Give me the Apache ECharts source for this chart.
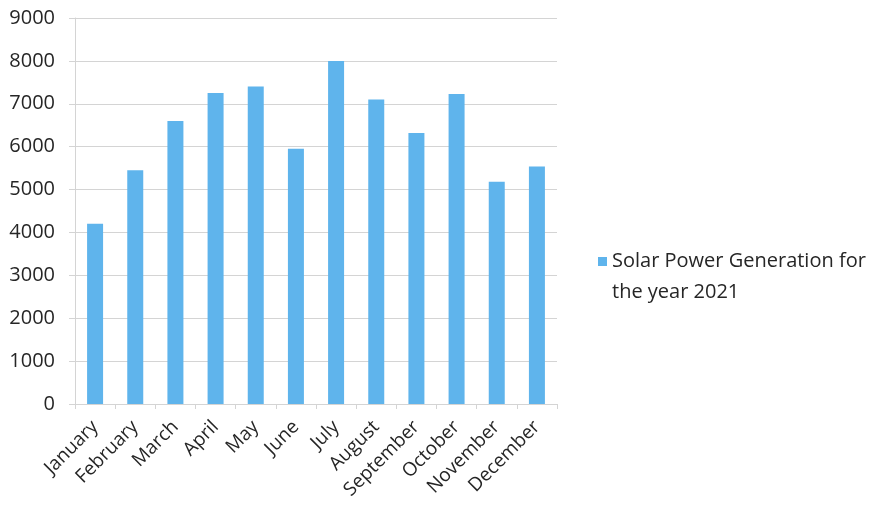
<!DOCTYPE html>
<html>
<head>
<meta charset="utf-8">
<script src="https://cdn.jsdelivr.net/npm/echarts@6/dist/echarts.min.js"></script>
<style>
html,body{margin:0;padding:0;background:#fff;}
#chart{width:878px;height:524px;}
</style>
</head>
<body>
<div id="chart"></div>
<script>
const categories = ['January','February','March','April','May','June','July','August','September','October','November','December'];
const seriesName = 'Solar Power Generation for the year 2021';
const values = [4200, 5450, 6600, 7250, 7400, 5950, 8000, 7100, 6320, 7230, 5180, 5540];
const yTicks = [0, 1000, 2000, 3000, 4000, 5000, 6000, 7000, 8000, 9000];

const chart = echarts.init(document.getElementById('chart'));
chart.setOption({
  animation: false,
  backgroundColor: '#ffffff',
  textStyle: { fontFamily: 'Open Sans' },
  grid: { left: 75, right: 321, top: 18, bottom: 120 },
  legend: {
    show: true,
    left: 593,
    top: 210,
    icon: 'rect',
    itemWidth: 9,
    itemHeight: 9,
    itemGap: 8,
    formatter: function () { return ' \nSolar Power Generation for\nthe year 2021'; },
    textStyle: { fontSize: 20, color: '#262626', lineHeight: 31, fontFamily: 'Open Sans' }
  },
  xAxis: {
    type: 'category',
    data: categories,
    boundaryGap: true,
    axisLine: { show: true, lineStyle: { color: '#d4d4d4', width: 1 } },
    axisTick: { show: true, alignWithLabel: false, length: 5, lineStyle: { color: '#d4d4d4' } },
    axisLabel: { rotate: 45, fontSize: 19, color: '#262626', margin: 20, interval: 0, fontFamily: 'Open Sans' }
  },
  yAxis: {
    type: 'value',
    min: yTicks[0],
    max: yTicks[yTicks.length - 1],
    interval: 1000,
    axisLine: { show: true, lineStyle: { color: '#d4d4d4', width: 1 } },
    axisTick: { show: true, length: 6, lineStyle: { color: '#d4d4d4' } },
    axisLabel: { fontSize: 20, color: '#262626', margin: 20, fontFamily: 'Open Sans', formatter: function (v) { return String(v); } },
    splitLine: { show: true, lineStyle: { color: '#d4d4d4', width: 1 } }
  },
  series: [{
    name: seriesName,
    type: 'bar',
    data: values,
    barWidth: 16,
    itemStyle: { color: '#5fb4ec' }
  }]
});
</script>
</body>
</html>
